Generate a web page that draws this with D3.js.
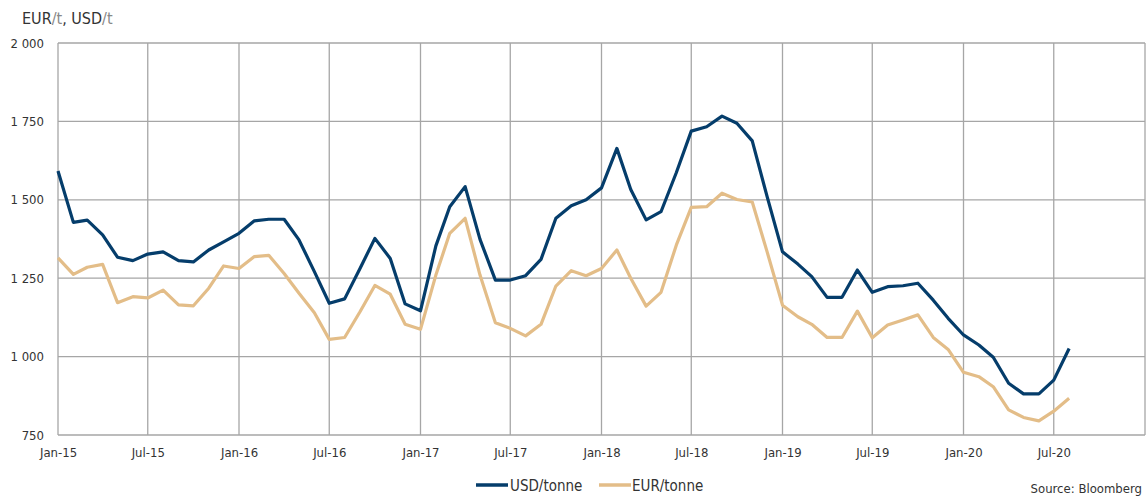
<!DOCTYPE html>
<html><head><meta charset="utf-8">
<script src="https://cdn.jsdelivr.net/npm/d3@7"></script>
<style>
html,body{margin:0;padding:0;background:#fff;}
svg text{font-family:"Liberation Sans Narrow","DejaVu Sans Condensed","Liberation Sans",sans-serif;fill:#333;}
</style></head>
<body><svg id="c" width="1147" height="497"></svg>
<script>
const startMonth = "2015-01";
const usd = [1592,1428,1435,1388,1317,1306,1327,1334,1306,1302,1340,1366,
 1393,1433,1438,1438,1372,1271,1170,1184,1281,1377,1313,1168,
 1146,1353,1478,1542,1374,1244,1244,1258,1310,1441,1481,1500,
 1538,1664,1533,1436,1462,1587,1719,1733,1767,1744,1688,1510,
 1334,1295,1255,1189,1189,1276,1205,1223,1226,1234,1180,1122,
 1069,1037,998,915,881,881,925,1026];
const eur = [1315,1262,1285,1294,1172,1191,1187,1212,1165,1162,1218,1289,
 1281,1319,1323,1265,1202,1140,1055,1061,1143,1227,1199,1103,
 1087,1260,1393,1441,1260,1108,1090,1066,1103,1225,1274,1258,
 1281,1340,1250,1161,1205,1356,1476,1478,1521,1501,1493,1334,
 1164,1127,1103,1061,1061,1145,1060,1101,1117,1133,1061,1023,
 950,936,904,830,806,795,826,867];
const yTicks = [750,1000,1250,1500,1750,2000];
const xTickLabels = ["Jan-15","Jul-15","Jan-16","Jul-16","Jan-17","Jul-17","Jan-18","Jul-18","Jan-19","Jul-19","Jan-20","Jul-20"];
const seriesNames = ["USD/tonne","EUR/tonne"];
const colors = ["#053d6b","#e3bd88"];

const svg = d3.select("#c");
const parse = d3.timeParse("%Y-%m");
const t0 = parse(startMonth);
const dates = usd.map((_,i)=>d3.timeMonth.offset(t0,i));
const x = d3.scaleTime().domain([t0, parse("2021-01")]).range([58,1145]);
const y = d3.scaleLinear().domain([750,2000]).range([435,43]);
const fmt = v => d3.format(",")(v).replace(",", " ");

const tickDates = xTickLabels.map((_,i)=>d3.timeMonth.offset(t0,i*6));
const gridDates = tickDates.concat([parse("2021-01")]);

// grid
svg.append("g").selectAll("line").data(yTicks).join("line")
  .attr("x1",58).attr("x2",1145).attr("y1",d=>y(d)).attr("y2",d=>y(d))
  .attr("stroke","#a6a6a6").attr("stroke-width",1.3);
svg.append("g").selectAll("line").data(gridDates).join("line")
  .attr("x1",d=>x(d)).attr("x2",d=>x(d)).attr("y1",y(2000)).attr("y2",y(750))
  .attr("stroke","#a6a6a6").attr("stroke-width",1.3);

// y axis labels
const yAxis = svg.append("g").attr("transform","translate(58,0)")
  .call(d3.axisLeft(y).tickValues(yTicks).tickFormat(fmt).tickSize(0).tickPadding(14));
yAxis.select(".domain").remove();
yAxis.selectAll("text").attr("font-size",13).style("font-family",null);

// x axis labels
const xAxis = svg.append("g").attr("transform","translate(0,435)")
  .call(d3.axisBottom(x).tickValues(tickDates).tickFormat((d,i)=>xTickLabels[i]).tickSize(0).tickPadding(13));
xAxis.select(".domain").remove();
xAxis.selectAll("text").attr("font-size",13).style("font-family",null);

// lines
const line = d3.line().x((d,i)=>x(dates[i])).y(d=>y(d));
[usd,eur].forEach((s,k)=>{
  svg.append("path").datum(s).attr("d",line).attr("fill","none")
    .attr("stroke",colors[k]).attr("stroke-width",3.2).attr("stroke-linejoin","round");
});

// title
const title = svg.append("text").attr("x",22).attr("y",24).attr("font-size",16);
title.append("tspan").text("EUR");
title.append("tspan").attr("fill","#888").style("fill","#888").text("/t");
title.append("tspan").text(", USD");
title.append("tspan").attr("fill","#888").style("fill","#888").text("/t");

// legend
const leg = [{x1:476,x2:508,tx:510},{x1:599,x2:631,tx:632}];
leg.forEach((l,k)=>{
  svg.append("line").attr("x1",l.x1).attr("x2",l.x2).attr("y1",485).attr("y2",485)
    .attr("stroke",colors[k]).attr("stroke-width",3.5);
  svg.append("text").attr("x",l.tx).attr("y",490.5).attr("font-size",15).text(seriesNames[k]);
});
svg.append("text").attr("x",1142).attr("y",493).attr("text-anchor","end").attr("font-size",13).text("Source: Bloomberg");
</script></body></html>
